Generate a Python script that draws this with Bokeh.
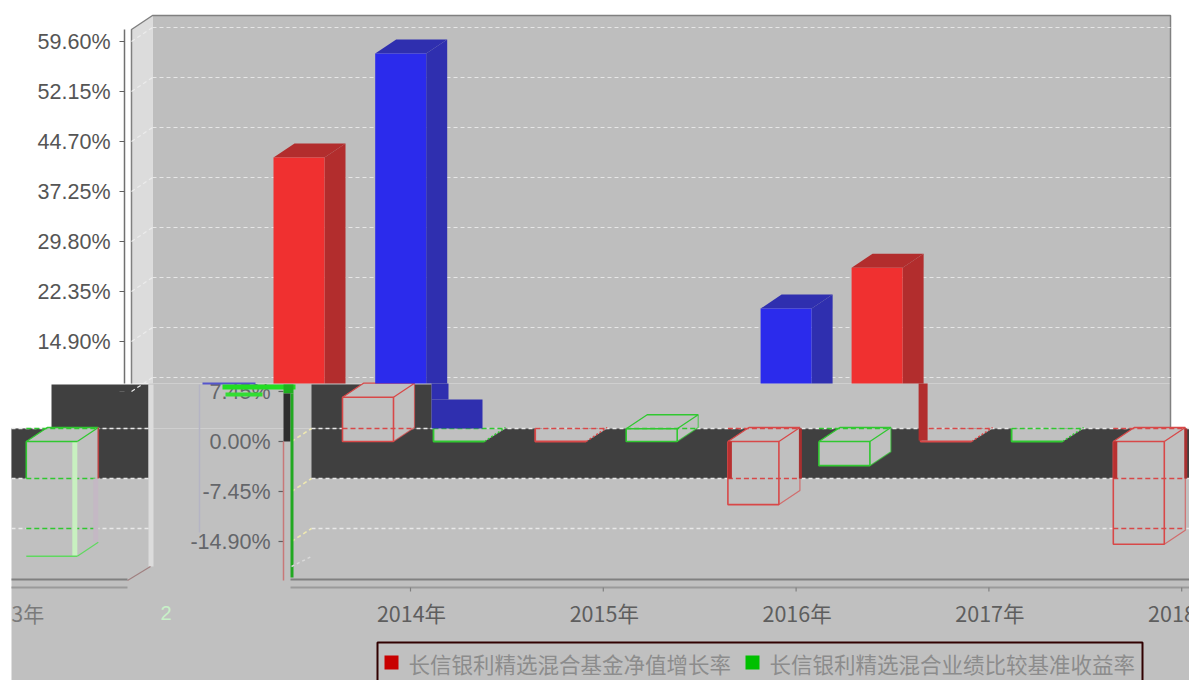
from bokeh.plotting import figure
from bokeh.models import Range1d
from bokeh.core.properties import value
from bokeh.embed import file_html
from bokeh.resources import INLINE

# ---- data ----
years = ["2014年", "2015年", "2016年", "2017年", "2018年"]
fund = [6.6, 57.8, -9.4, 19.8, -15.3]
bench = [42.3, 1.9, -3.6, 25.9, -17.1]
ticks = [59.60, 52.15, 44.70, 37.25, 29.80, 22.35, 14.90, 7.45, 0.00, -7.45, -14.90]
legend_names = ["长信银利精选混合基金净值增长率", "长信银利精选混合业绩比较基准收益率"]
clipped_year_text = "3年"

# ---- layout ----
W, H = 1189, 680
PX_PER_PCT = 50 / 7.45
Y0 = 441
def Y(px):
    return (Y0 - px) / PX_PER_PCT
def P(v):
    return Y0 - v * PX_PER_PCT

p = figure(width=W, height=H, x_range=Range1d(0, W), y_range=Range1d(Y(H), Y(0)),
           x_axis_location=None, y_axis_location=None, tools="", toolbar_location=None,
           output_backend="svg", min_border=0, background_fill_color="white",
           border_fill_color="white", outline_line_color=None)
p.grid.visible = False

GRAY = "#C0C0C0"
WALL = "#BEBEBE"
DARK = "#404040"
FONT = value("Liberation Sans")
CJK = value("Noto Sans CJK SC")

def rect(x0, x1, y0, y1, c):
    p.quad(left=[x0], right=[x1], top=[Y(y0)], bottom=[Y(y1)], fill_color=c, line_color=None)
def poly(pts, c):
    p.patch([a for a, _ in pts], [Y(b) for _, b in pts], fill_color=c, line_color=None)
def line(pts, c, w=1.0, dash="solid", a=1.0):
    p.line([q[0] for q in pts], [Y(q[1]) for q in pts], line_color=c, line_width=w,
           line_dash=dash, line_alpha=a)
def label(x, y, t, c="#555555", size="21.5px", align="left", font=FONT):
    p.text([x], [Y(y)], text=[t], text_color=c, text_font_size=size, text_align=align,
           text_baseline="middle", text_font=font)

# ---- backgrounds ----
rect(152, 1170, 15, 383, WALL)
poly([(131, 29), (152, 15), (152, 383), (131, 383)], "#DCDCDC")
rect(148, 1170, 383, 428, GRAY)
rect(11, W, 428, H, GRAY)
rect(51, 148, 384, 428, DARK)
rect(11, 148, 428, 478, DARK)
rect(311, 431, 384, 428, DARK)
rect(311, W, 428, 478, DARK)
rect(148, 153, 384, 566, "#DCDCDC")

# ---- upper panel frame, grid ----
line([(131, 383), (131, 29), (152, 15), (1170, 15), (1170, 427)], "#808080", 1.5)
line([(124, 29), (124, 383)], "#707070", 1.5)
for v in ticks:
    if v >= 7.45:
        py = P(v)
        line([(152, py - 14), (1170, py - 14)], "#E6E6E6", 1.2, "4 3")
        line([(131, py), (152, py - 14)], "#ECECEC", 1.2, "4 3")
        line([(119, py), (124, py)], "#606060", 1.2)
        if v > 7.45:
            label(110, py, f"{v:.2f}%", align="right")

# ---- lower panel grid ----
for v in ticks:
    if v <= 0:
        py = P(v)
        line([(311, py - 13), (W, py - 13)], "#E8E8E8", 1.6, "4 3")
        line([(11, py - 13), (148, py - 13)], "#E8E8E8", 1.6, "4 3")
        line([(291, py), (311, py - 13)], "#EFE9B0", 1.6, "4 3")
    if v <= 7.45:
        py = P(v)
        line([(278, py), (283, py)], "#606060", 1.2)
        label(270, py, f"{v:.2f}%", c="#64666a", align="right")

# ---- smear beside the lower axis ----
line([(199, 384), (199, 532)], "#B4B4C4", 1.5)
line([(202, 383), (255, 383)], "#5555CC", 2)
rect(222, 295, 384, 389, "#22DD22")
rect(225, 262, 392, 396, "#33DD33")
rect(283, 293, 384, 393, "#20B020")
rect(283, 290, 393, 441, "#2E2E2E")
rect(290, 293, 393, 577, "#22A822")
line([(283, 441), (283, 580)], "#C87878", 1.5)
line([(291, 566), (311, 556)], "#DADADA", 1.4, "3 3")

# ---- bars ----
DX, DY = 21, 14
BW = 51
SLOT0, SLOT_STEP, SERIES_OFFSET, SHIFT, WRAP = 342, 192.7, 91, 160, 1178
UP_RED = ("#F03030", "#B22D2D")
UP_BLUE = ("#2B2BEC", "#2F2FAF")
upper_style = {(0, 1): UP_RED, (1, 0): UP_BLUE, (3, 0): UP_BLUE, (3, 1): UP_RED}
CLIP_UP = 383
CLIP_LO = 428
BAND_BOTTOM = 478

def lower_box(x0, v, col, faded=False):
    x1 = x0 + BW
    ptop = P(v) if v > 0 else Y0
    pbot = Y0 if v > 0 else P(v)
    if v > 0 and P(v) < CLIP_UP:
        # tall bar: only the stump below the cut is outlined
        poly([(x0, CLIP_LO), (x1 + DX, CLIP_LO), (x1, pbot), (x0, pbot)], GRAY)
        line([(x0, CLIP_LO), (x1 + DX, CLIP_LO)], col, 1.5, "5 3")
        line([(x0, CLIP_LO), (x0, pbot), (x1, pbot)], col, 1.8)
        line([(x1, pbot), (x1 + DX, pbot - DY)], col, 1.5, "2 2")
        return
    poly([(x0, ptop), (x0 + DX, ptop - DY), (x1 + DX, ptop - DY), (x1 + DX, pbot - DY),
          (x1, pbot), (x0, pbot)], GRAY)
    for g in ticks:
        gy = P(g) - 13
        if ptop - DY <= gy <= pbot:
            line([(x0, gy), (x1 + DX, gy)], col, 1.5, "5 3")
    if faded:
        # wrapped-around bar: its lower edges have nearly dissolved
        rect(x1 - 5, x1, ptop, pbot, "#C8F0C0")
        rect(x1 + DX - 5, x1 + DX, BAND_BOTTOM, pbot - DY, "#C4B8C4")
        line([(x0, BAND_BOTTOM), (x0, ptop), (x1, ptop)], col, 1.6)
        line([(x0, pbot), (x1, pbot)], "#60D860", 1.6)
        line([(x0, ptop), (x0 + DX, ptop - DY), (x1 + DX, ptop - DY), (x1, ptop)], col, 1.3)
        line([(x1 + DX, ptop - DY), (x1 + DX, BAND_BOTTOM)], "#B84040", 1.6)
        line([(x1, pbot), (x1 + DX, pbot - DY)], "#60D860", 1.2)
        return
    line([(x0, ptop), (x1, ptop), (x1, pbot), (x0, pbot), (x0, ptop)], col, 1.6)
    line([(x0, ptop), (x0 + DX, ptop - DY), (x1 + DX, ptop - DY), (x1, ptop)], col, 1.3)
    line([(x1 + DX, ptop - DY), (x1 + DX, pbot - DY), (x1, pbot)], col, 1.2, a=0.7)
    if v < 0 and pbot > BAND_BOTTOM:
        # heavier edges where the outline crosses the dark band
        rect(x0, x0 + 4, ptop, BAND_BOTTOM, "#B83030")
        rect(x1 + DX - 1, x1 + DX + 2, CLIP_LO, BAND_BOTTOM, "#A83030")

for i in range(len(years)):
    for s, vals in enumerate((fund, bench)):
        v = vals[i]
        x0 = SLOT0 + SLOT_STEP * i + s * SERIES_OFFSET
        if (i, s) in upper_style and P(v) < CLIP_UP:
            front, side = upper_style[(i, s)]
            ux0 = x0 - SHIFT
            ux1 = ux0 + BW
            pt = P(v)
            poly([(ux0, pt), (ux0 + DX, pt - DY), (ux1 + DX, pt - DY), (ux1, pt)], side)
            poly([(ux1, pt), (ux1 + DX, pt - DY), (ux1 + DX, CLIP_UP), (ux1, CLIP_UP)], side)
            rect(ux0, ux1, pt, CLIP_UP, front)
        col = "#D84848" if s == 0 else "#30C830"
        wrapped = x0 > W
        if wrapped:
            x0 -= WRAP
        lower_box(x0, v, col, faded=wrapped)

# stray pieces of the tall bars below the cut
sx = SLOT0 + SERIES_OFFSET
rect(sx - 2, sx + BW - 2, 399, 428, "#2F2FAF")
rect(sx - 2, sx + 15, 383, 399, "#2F2FAF")
sx = SLOT0 + 3 * SLOT_STEP - 2
rect(sx, sx + 9, 383, 440, "#B22D2D")

# ---- floor lines, year labels ----
for x0, x1 in ((290, W), (11, 127)):
    line([(x0, 579), (x1, 579)], "#808080", 1.8)
    line([(x0, 587), (x1, 587)], "#9A9A9A", 1.8)
line([(127, 580), (150, 566)], "#A08080", 1.2)
for i, y in enumerate(years):
    x = 411 + 192.8 * i
    line([(x - 1, 587), (x - 1, 591)], "#808080", 1.2)
    label(x, 612, y, c="#5e5e5e", size="21.5px", align="center", font=CJK)
label(11, 612, clipped_year_text, c="#7a7a7a", size="21px", font=CJK)
label(160, 612, years[0][0], c="#C8F0C8", size="20px")

# ---- legend ----
rect(377, 1142, 642, H, GRAY)
line([(377, H), (377, 642), (1142, 642), (1142, H)], "#300000", 2)
rect(384, 398, 655, 669, "#C80000")
rect(745, 759, 655, 669, "#00C000")
label(408, 663, legend_names[0], c="#8c8c8c", size="21.5px", font=CJK)
label(769, 663, legend_names[1], c="#8c8c8c", size="21.5px", font=CJK)

open("out.html", "w").write(file_html(p, INLINE))
